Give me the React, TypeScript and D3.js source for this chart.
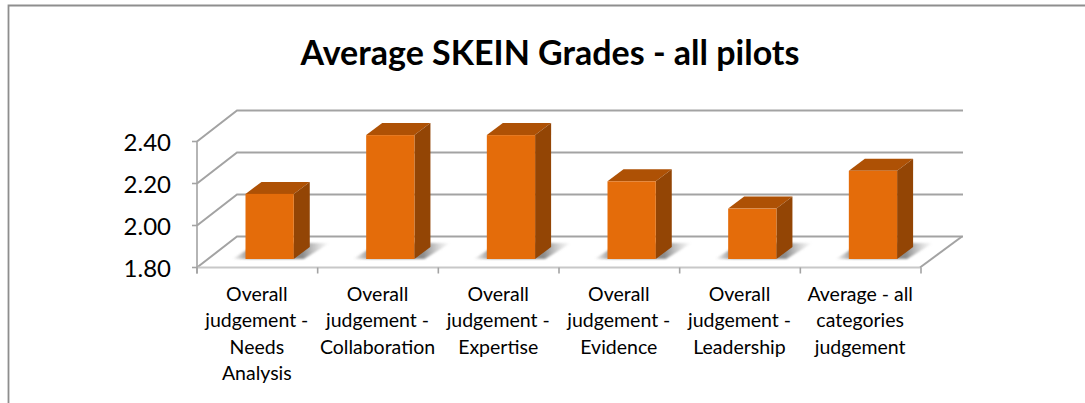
import React from 'react';
import * as d3 from 'd3';

const categories = ['Needs', 'Collaboration', 'Expertise', 'Evidence', 'Leadership', 'Average'];
const values = [2.11, 2.39, 2.39, 2.17, 2.04, 2.22];
const labelLines = [
  ['Overall', 'judgement -', 'Needs', 'Analysis'],
  ['Overall', 'judgement -', 'Collaboration'],
  ['Overall', 'judgement -', 'Expertise'],
  ['Overall', 'judgement -', 'Evidence'],
  ['Overall', 'judgement -', 'Leadership'],
  ['Average - all', 'categories', 'judgement'],
];
const yTicks = [1.8, 2.0, 2.2, 2.4];
const chartTitle = 'Average SKEIN Grades - all pilots';

const FONT = 'Lato, "Open Sans", sans-serif';
const GRID = '#a3a3a3';

// offsets of the fake 3d box
const wall = { dx: 40, dy: -31 };
const floor = { dx: 12.3, dy: -8.5 };
const depth = { dx: 16, dy: -12 };

export default function App() {
  const x = d3.scaleBand<string>()
    .domain(categories)
    .range([197, 921])
    .paddingInner(0.6)
    .paddingOuter(0.3);
  const y = d3.scaleLinear().domain([1.8, 2.4]).range([267.5, 141.5]);
  const step = x.step();
  const ticksX = d3.range(categories.length + 1).map((i) => 197 + i * step);
  const line = d3.line();

  return (
    <svg width={1085} height={403} style={{ position: 'absolute', left: 0, top: 0, background: '#fff' }}>
      <defs>
        <linearGradient id="shadow" x1="0" x2="1" y1="0" y2="0">
          <stop offset="0" stopColor="#777" stopOpacity={0} />
          <stop offset="0.18" stopColor="#777" stopOpacity={0.85} />
          <stop offset="0.72" stopColor="#777" stopOpacity={0.85} />
          <stop offset="1" stopColor="#aaa" stopOpacity={0} />
        </linearGradient>
        <filter id="soft" x="-20%" y="-40%" width="140%" height="180%">
          <feGaussianBlur stdDeviation="1.2" />
        </filter>
      </defs>

      <path d="M8.5,403V5.5H1085" fill="none" stroke="#8e8e8e" strokeWidth={1.8} />

      <text x={550} y={65} textAnchor="middle" fontFamily={FONT} fontWeight={700} fontSize={34} fill="#000">
        {chartTitle}
      </text>

      {/* back wall gridlines and left wall diagonals */}
      {yTicks.map((t) => (
        <path
          key={t}
          d={line([
            [197, y(t)],
            [197 + wall.dx, y(t) + wall.dy],
            [963, y(t) + wall.dy],
          ]) as string}
          fill="none"
          stroke={GRID}
          strokeWidth={2}
        />
      ))}

      {/* floor */}
      <path d={line([[920, y(1.8)], [962, y(1.8) + wall.dy]]) as string} fill="none" stroke={GRID} strokeWidth={2} />
      <path d={line([[197, y(1.8)], [920, y(1.8)]]) as string} fill="none" stroke="#c8c8c8" strokeWidth={2} />

      {/* y axis */}
      <path d={line([[197, y(2.4)], [197, y(1.8) + 6]]) as string} fill="none" stroke={GRID} strokeWidth={1.6} />
      {yTicks.map((t) => (
        <g key={t}>
          <path d={line([[192, y(t)], [197, y(t)]]) as string} stroke={GRID} strokeWidth={1.6} />
          <text x={171} y={y(t)} dy="0.38em" textAnchor="end" fontFamily={FONT} fontSize={24} fill="#000">
            {t.toFixed(2)}
          </text>
        </g>
      ))}

      {/* x ticks */}
      {ticksX.map((tx) => (
        <path key={tx} d={line([[tx, y(1.8)], [tx, y(1.8) + 6]]) as string} stroke={GRID} strokeWidth={1.6} />
      ))}

      {/* bars */}
      {categories.map((c, i) => {
        const left = (x(c) as number) + floor.dx;
        const w = x.bandwidth();
        const right = left + w;
        const base = y(1.8) + floor.dy;
        const top = y(values[i]) + floor.dy;
        const box = (pts: [number, number][]) => (line(pts) as string) + 'Z';
        return (
          <g key={c}>
            <path
              d={box([
                [left - 13, base],
                [left + 12, base - 16],
                [right + 36, base - 16],
                [right + 10, base],
              ])}
              fill="url(#shadow)"
              filter="url(#soft)"
            />
            <path
              d={box([[left, top], [left + depth.dx, top + depth.dy], [right + depth.dx, top + depth.dy], [right, top]])}
              fill="#ae5105"
            />
            <path
              d={box([[right, top], [right + depth.dx, top + depth.dy], [right + depth.dx, base + depth.dy], [right, base]])}
              fill="#934505"
            />
            <rect x={left} y={top} width={w} height={base - top} fill="#e46c0a" />
          </g>
        );
      })}

      {/* category labels */}
      {categories.map((c, i) => (
        <text key={c} textAnchor="middle" fontFamily={FONT} fontSize={19.5} fill="#000">
          {labelLines[i].map((l, j) => (
            <tspan key={j} x={(x(c) as number) + x.bandwidth() / 2 - 0.5} y={301 + j * 26.3}>
              {l}
            </tspan>
          ))}
        </text>
      ))}
    </svg>
  );
}
